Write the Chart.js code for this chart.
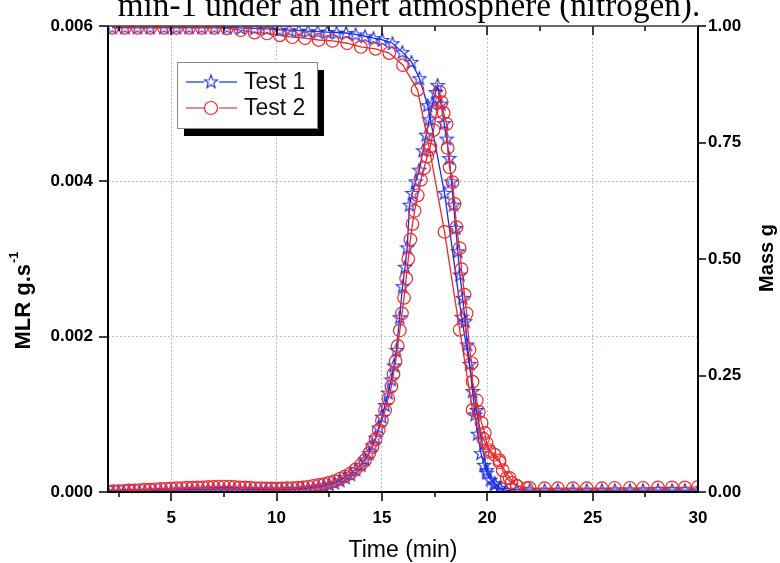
<!DOCTYPE html>
<html>
<head>
<meta charset="utf-8">
<script src="https://cdn.jsdelivr.net/npm/chart.js@4.4.0/dist/chart.umd.min.js"></script>
<style>
  html, body { margin: 0; padding: 0; background: #fff; }
</style>
</head>
<body>
<canvas id="chart" width="780" height="563"></canvas>
<script>
// ---- data ----
const seriesNames = ['Test 1', 'Test 2'];

// mass loss rate (left axis, g/s)
const t1MlrTime = [2.0, 2.25, 2.5, 2.75, 3.0, 3.25, 3.5, 3.75, 4.0, 4.25, 4.5, 4.75, 5.0, 5.25, 5.5, 5.75, 6.0, 6.25, 6.5, 6.75, 7.0, 7.25, 7.5, 7.75, 8.0, 8.25, 8.5, 8.75, 9.0, 9.25, 9.5, 9.75, 10.0, 10.25, 10.5, 10.75, 11.0, 11.25, 11.5, 11.75, 12.0, 12.25, 12.5,
  12.75, 13.0, 13.25, 13.5, 13.75, 14.0, 14.2, 14.4, 14.55, 14.7, 14.85, 15.0, 15.15, 15.3, 15.45, 15.57, 15.69, 15.84, 15.98, 16.1, 16.2, 16.31, 16.45, 16.6, 16.78, 16.95, 17.1, 17.25, 17.4, 17.55,
  17.64, 17.8, 17.95, 18.07, 18.2, 18.3, 18.4, 18.5, 18.6, 18.7, 18.83, 18.95, 19.05, 19.16, 19.3, 19.42, 19.54, 19.7, 19.85, 19.97, 20.15, 20.35, 20.6, 20.9, 21.4];
const t1Mlr = [0, 0, 0.000005, 0.000005, 0.00001, 0.00001, 0.00001, 0.000015, 0.000015, 0.00002, 0.00002, 0.00002, 0.000025, 0.000025, 0.00003, 0.00003, 0.00003, 0.000035, 0.000035, 0.000035, 0.00004, 0.00004, 0.00004, 0.00004, 0.00004, 0.000035, 0.000035, 0.000035, 0.00003, 0.00003, 0.00003, 0.00003, 0.00003, 0.00003, 0.000035, 0.000035, 0.00004, 0.000045, 0.00005, 0.00006, 0.00007, 0.00008, 0.0001,
  0.00012, 0.00015, 0.00019, 0.00023, 0.00029, 0.00035, 0.00042, 0.0005, 0.0006, 0.0007, 0.00083, 0.00097, 0.00112, 0.00128, 0.00145, 0.00163, 0.00183, 0.00225, 0.00265, 0.0029, 0.00315, 0.0037, 0.00385, 0.004, 0.00415, 0.0044, 0.0046, 0.0048, 0.005, 0.00515,
  0.00524, 0.005, 0.00475, 0.00455, 0.0043, 0.004, 0.0037, 0.0034, 0.0031, 0.0028, 0.0025, 0.0022, 0.0019, 0.00165, 0.0013, 0.001, 0.00075, 0.0005, 0.00035, 0.00025, 0.00016, 0.0001, 0.00005, 0.00002, 0.00001];

const t2MlrTime = [2.0, 2.25, 2.5, 2.75, 3.0, 3.25, 3.5, 3.75, 4.0, 4.25, 4.5, 4.75, 5.0, 5.25, 5.5, 5.75, 6.0, 6.25, 6.5, 6.75, 7.0, 7.25, 7.5, 7.75, 8.0, 8.25, 8.5, 8.75, 9.0, 9.25, 9.5, 9.75, 10.0, 10.25, 10.5, 10.75, 11.0, 11.25, 11.5, 11.75, 12.0, 12.25, 12.5,
  12.75, 13.0, 13.25, 13.5, 13.75, 14.0, 14.2, 14.4, 14.55, 14.7, 14.85, 15.0, 15.15, 15.3, 15.45, 15.55, 15.65, 15.75, 15.85, 15.95, 16.05, 16.15, 16.25, 16.35, 16.45, 16.55, 16.7, 16.85, 17.0, 17.15, 17.3, 17.45, 17.6,
  17.74, 17.83, 17.93, 18.07, 18.12, 18.21, 18.35, 18.45, 18.54, 18.69, 18.78, 18.92, 19.02, 19.16, 19.26, 19.3, 19.5, 19.6,
  19.73, 19.88, 19.97, 20.1, 20.35, 20.58, 20.73, 20.92, 21.15, 21.4, 21.87];
const t2Mlr = [0.000005, 0.00001, 0.00001, 0.000015, 0.00002, 0.00002, 0.000025, 0.00003, 0.00003, 0.000035, 0.00004, 0.00004, 0.000045, 0.00005, 0.00005, 0.000055, 0.000055, 0.00006, 0.00006, 0.000065, 0.000065, 0.00007, 0.00007, 0.00007, 0.000065, 0.00006, 0.00006, 0.000055, 0.00005, 0.00005, 0.000045, 0.000045, 0.000045, 0.000045, 0.00005, 0.00005, 0.000055, 0.00006, 0.00007, 0.00008, 0.00009, 0.0001, 0.00012,
  0.00014, 0.00017, 0.0002, 0.00024, 0.00029, 0.00035, 0.00041, 0.0005, 0.00058, 0.00068, 0.0008, 0.00092, 0.00105, 0.0012, 0.00136, 0.00152, 0.00168, 0.00188, 0.00208, 0.0023, 0.0025, 0.00275, 0.003, 0.00325, 0.00345, 0.00362, 0.00382, 0.00402, 0.00417, 0.00432, 0.00445, 0.00466, 0.0049,
  0.00515, 0.00502, 0.00488, 0.00474, 0.00443, 0.00418, 0.00399, 0.00371, 0.00341, 0.00314, 0.00287, 0.00254, 0.0023, 0.00183, 0.00166, 0.00142, 0.00118, 0.00103,
  0.00089, 0.00076, 0.00063, 0.00054, 0.00048, 0.00041, 0.00028, 0.00018, 0.00012, 0.00008, 0.00005];

// mass (right axis, g)
const t1MassTime = [2.2, 2.8, 3.4, 4.0, 4.65, 5.25, 5.85, 6.45, 7.05, 7.65, 8.3, 8.95, 9.55,
  10.15, 10.6, 11.05, 11.5, 11.95, 12.4, 12.85, 13.3, 13.75, 14.2, 14.6, 15.02, 15.5, 15.97, 16.4, 16.78,
  17.17, 17.97, 18.78, 19.5, 19.97, 20.35, 20.6, 21.4,
  22.01, 22.72, 23.35, 24.06, 24.72, 25.44, 26.05, 26.77, 27.39, 28.1, 28.77, 29.38, 30.0];
const t1Mass = [0.997, 0.997, 0.997, 0.997, 0.997, 0.997, 0.997, 0.997, 0.997, 0.997, 0.996, 0.995, 0.994,
  0.992, 0.991, 0.99, 0.989, 0.988, 0.987, 0.986, 0.985, 0.982, 0.978, 0.974, 0.97, 0.963, 0.944, 0.923, 0.888,
  0.83, 0.642, 0.376, 0.176, 0.047, 0.019, 0.009, 0.005,
  0.004, 0.004, 0.004, 0.004, 0.004, 0.004, 0.004, 0.004, 0.004, 0.004, 0.004, 0.004, 0.004];

const t2MassTime = [2.2, 2.8, 3.4, 4.0, 4.65, 5.25, 5.85, 6.45, 7.05, 7.65,
  8.3, 8.95, 9.55, 10.15, 10.75, 11.35, 12.0, 12.65, 13.35, 14.0, 14.7, 15.35, 16.0,
  16.69, 17.26, 17.97, 18.69, 19.3, 19.8, 20.1, 20.58, 21.06, 21.4,
  22.01, 22.72, 23.35, 24.06, 24.72, 25.44, 26.05, 26.77, 27.39, 28.1, 28.77, 29.38, 30.0];
const t2Mass = [0.996, 0.996, 0.996, 0.996, 0.996, 0.996, 0.996, 0.996, 0.996, 0.995,
  0.991, 0.986, 0.984, 0.98, 0.976, 0.974, 0.97, 0.968, 0.963, 0.955, 0.951, 0.942, 0.916,
  0.863, 0.735, 0.558, 0.348, 0.176, 0.115, 0.086, 0.064, 0.03, 0.013,
  0.009, 0.008, 0.008, 0.008, 0.008, 0.008, 0.009, 0.009, 0.009, 0.01, 0.01, 0.01, 0.011];

const xTicks = [5, 10, 15, 20, 25, 30];
const mlrTicks = [0, 0.002, 0.004, 0.006];
const massTicks = [0, 0.25, 0.5, 0.75, 1];
const titleText = 'min-1 under an inert atmosphere (nitrogen).';

// ---- styling ----
const blue = '#1c2ee0';
const red = '#f02828';
const sans = '"Liberation Sans", Arial, sans-serif';
const serif = '"Liberation Serif", "DejaVu Serif", serif';

function pairs(xs, ys) {
  let out = [];
  for (let i = 0; i < Math.min(xs.length, ys.length); i++) out.push({x: xs[i], y: ys[i]});
  return out;
}

function makeStar(color) {
  let c = document.createElement('canvas');
  c.width = 16; c.height = 16;
  let g = c.getContext('2d');
  g.strokeStyle = color;
  g.lineWidth = 1.1;
  g.beginPath();
  for (let i = 0; i < 10; i++) {
    let r = (i % 2 === 0) ? 7 : 2.9;
    let a = -Math.PI / 2 + i * Math.PI / 5;
    let px = 8 + r * Math.cos(a), py = 8.6 + r * Math.sin(a);
    if (i === 0) g.moveTo(px, py); else g.lineTo(px, py);
  }
  g.closePath();
  g.stroke();
  return c;
}
const starImg = makeStar(blue);

function series(label, data, axis, color, marker, order) {
  return {
    label: label,
    data: data,
    yAxisID: axis,
    borderColor: color,
    backgroundColor: 'rgba(0,0,0,0)',
    borderWidth: 1.3,
    pointStyle: marker,
    pointRadius: 6.3,
    pointBorderColor: color,
    pointBackgroundColor: 'rgba(0,0,0,0)',
    pointBorderWidth: 1.2,
    tension: 0,
    clip: 0,
    order: order
  };
}

// axes, ticks and frame drawn by hand (Origin style)
const frame = {
  id: 'frame',
  afterDatasetsDraw(chart) {
    const {ctx, chartArea: a, scales} = chart;
    ctx.save();
    ctx.strokeStyle = '#000';
    ctx.lineWidth = 1.5;
    for (let v = 2.5; v < 30; v += 2.5) {
      let px = Math.round(scales.x.getPixelForValue(v));
      let len = (v % 5 === 0) ? 9 : 5;
      ctx.beginPath();
      ctx.moveTo(px, a.bottom); ctx.lineTo(px, a.bottom + len);
      ctx.moveTo(px, a.top); ctx.lineTo(px, a.top + len);
      ctx.stroke();
    }
    mlrTicks.forEach(v => {
      let py = Math.round(scales.y.getPixelForValue(v));
      ctx.beginPath(); ctx.moveTo(a.left - 9, py); ctx.lineTo(a.left, py); ctx.stroke();
    });
    massTicks.forEach(v => {
      let py = Math.round(scales.y2.getPixelForValue(v));
      ctx.beginPath(); ctx.moveTo(a.right, py); ctx.lineTo(a.right + 8, py); ctx.stroke();
    });
    ctx.lineWidth = 2;
    ctx.beginPath();
    ctx.moveTo(a.left, a.top); ctx.lineTo(a.left, a.bottom); ctx.lineTo(a.right, a.bottom); ctx.lineTo(a.right, a.top);
    ctx.stroke();
    ctx.strokeStyle = '#3a3a3a';
    ctx.lineWidth = 1.5;
    ctx.beginPath(); ctx.moveTo(a.left, a.top); ctx.lineTo(a.right, a.top); ctx.stroke();
    ctx.restore();
  },
  afterDraw(chart) {
    const {ctx, chartArea: a} = chart;
    ctx.save();
    ctx.fillStyle = '#000';
    // cut-off caption at the top
    ctx.font = '28px ' + serif;
    let w = ctx.measureText(titleText).width;
    let size = 28 * 582 / w;
    ctx.font = size.toFixed(1) + 'px ' + serif;
    ctx.textAlign = 'center';
    ctx.textBaseline = 'alphabetic';
    ctx.fillText(titleText, 409, 16);

    // x title
    ctx.font = '23px ' + sans;
    ctx.textBaseline = 'middle';
    ctx.fillText('Time (min)', (a.left + a.right) / 2, 551);

    // left title with superscript
    ctx.save();
    ctx.translate(24, 301);
    ctx.rotate(-Math.PI / 2);
    ctx.font = 'bold 22px ' + sans;
    let main = 'MLR g.s';
    let wm = ctx.measureText(main).width;
    ctx.font = 'bold 13px ' + sans;
    let ws = ctx.measureText('-1').width;
    let x0 = -(wm + ws) / 2;
    ctx.textAlign = 'left';
    ctx.font = 'bold 22px ' + sans;
    ctx.fillText(main, x0, 0);
    ctx.font = 'bold 13px ' + sans;
    ctx.fillText('-1', x0 + wm + 1, -10);
    ctx.restore();

    // right title
    ctx.save();
    ctx.translate(767, 258);
    ctx.rotate(-Math.PI / 2);
    ctx.font = 'bold 20px ' + sans;
    ctx.textAlign = 'center';
    ctx.fillText('Mass g', 0, 0);
    ctx.restore();

    // legend box with shadow
    const bx = 177, by = 62, bw = 140, bh = 66;
    ctx.fillStyle = '#000';
    ctx.fillRect(bx + 7, by + 8, bw, bh);
    ctx.fillStyle = '#fff';
    ctx.fillRect(bx, by, bw, bh);
    ctx.strokeStyle = '#8a8a8a';
    ctx.lineWidth = 1;
    ctx.strokeRect(bx + 0.5, by + 0.5, bw, bh);
    const rows = [
      {name: seriesNames[0], color: '#3f5ce6', mark: 'star', y: by + 20},
      {name: seriesNames[1], color: '#e8607a', mark: 'circle', y: by + 46}
    ];
    rows.forEach(r => {
      ctx.strokeStyle = r.color;
      ctx.lineWidth = 1.3;
      ctx.beginPath();
      ctx.moveTo(bx + 9, r.y); ctx.lineTo(bx + 27, r.y);
      ctx.moveTo(bx + 42, r.y); ctx.lineTo(bx + 60, r.y);
      ctx.stroke();
      if (r.mark === 'star') {
        ctx.drawImage(starImg, bx + 34 - 8, r.y - 8.6);
      } else {
        ctx.strokeStyle = red;
        ctx.lineWidth = 1.2;
        ctx.beginPath(); ctx.arc(bx + 34, r.y, 6.5, 0, Math.PI * 2); ctx.stroke();
      }
      ctx.fillStyle = '#111';
      ctx.font = '23px ' + sans;
      ctx.textAlign = 'left';
      ctx.textBaseline = 'middle';
      ctx.fillText(r.name, bx + 67, r.y + 1);
    });
    ctx.restore();
  }
};

const gridColor = '#a9c4ea';
const tickFont = { family: sans, size: 17, weight: 'bold' };

const ctx = document.getElementById('chart').getContext('2d');
const chart = new Chart(ctx, {
  type: 'line',
  data: {
    datasets: [
      series(seriesNames[1], pairs(t2MassTime, t2Mass), 'y2', red, 'circle', 1),
      series(seriesNames[1], pairs(t2MlrTime, t2Mlr), 'y', red, 'circle', 2),
      series(seriesNames[0], pairs(t1MassTime, t1Mass), 'y2', blue, starImg, 3),
      series(seriesNames[0], pairs(t1MlrTime, t1Mlr), 'y', blue, starImg, 4)
    ]
  },
  options: {
    responsive: false,
    animation: false,
    events: [],
    layout: { padding: { top: 26, left: 0, right: 0, bottom: 0 } },
    plugins: {
      legend: { display: false },
      tooltip: { enabled: false },
      title: { display: false }
    },
    scales: {
      x: {
        type: 'linear',
        min: 2, max: 30,
        afterFit: s => { s.height = 71; },
        afterBuildTicks: s => { s.ticks = xTicks.map(v => ({value: v})); },
        ticks: {
          autoSkip: false, maxRotation: 0, padding: 16, color: '#000',
          font: tickFont,
          callback: v => String(v)
        },
        grid: {
          drawTicks: false,
          lineWidth: 1,
          color: c => (c.tick && c.tick.value > 2 && c.tick.value < 30) ? gridColor : 'rgba(0,0,0,0)'
        },
        border: { display: false, dash: [2, 2] }
      },
      y: {
        position: 'left',
        min: 0, max: 0.006,
        afterFit: s => { s.width = 108; },
        afterBuildTicks: s => { s.ticks = mlrTicks.map(v => ({value: v})); },
        ticks: {
          padding: 15, color: '#000',
          font: tickFont,
          callback: v => v.toFixed(3)
        },
        grid: {
          drawTicks: false,
          color: c => (c.tick && c.tick.value > 1e-9 && c.tick.value < 0.006 - 1e-9) ? gridColor : 'rgba(0,0,0,0)'
        },
        border: { display: false, dash: [2, 2] }
      },
      y2: {
        position: 'right',
        min: 0, max: 1,
        afterFit: s => { s.width = 82; },
        afterBuildTicks: s => { s.ticks = massTicks.map(v => ({value: v})); },
        ticks: {
          padding: 10, color: '#000',
          font: tickFont,
          callback: v => v.toFixed(2)
        },
        grid: { display: false, drawTicks: false },
        border: { display: false }
      }
    }
  },
  plugins: [frame]
});
</script>
</body>
</html>
